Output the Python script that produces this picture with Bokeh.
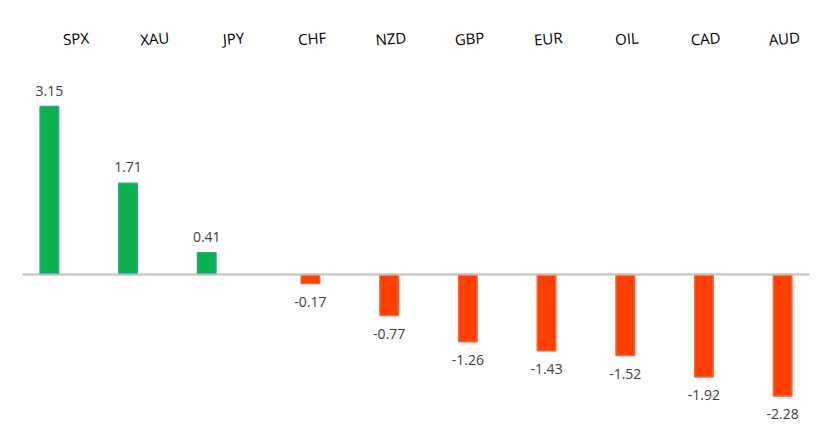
from bokeh.plotting import figure
from bokeh.models import ColumnDataSource, Range1d
from bokeh.core.properties import value
from bokeh.embed import file_html
from bokeh.resources import INLINE

categories = ["SPX", "XAU", "JPY", "CHF", "NZD", "GBP", "EUR", "OIL", "CAD", "AUD"]
changes = [3.15, 1.71, 0.41, -0.17, -0.77, -1.26, -1.43, -1.52, -1.92, -2.28]

n = len(categories)
idx = list(range(n))
bar_off = 0.159
xs = [i - bar_off if v >= 0 else i + bar_off for i, v in zip(idx, changes)]
fills = ["#0BB04F" if v >= 0 else "#FF4000" for v in changes]
edges = ["#2AA98C" if v >= 0 else "#F86434" for v in changes]
labels = ["%.2f" % v for v in changes]
yoffs = [-16 if v >= 0 else 18 for v in changes]

src = ColumnDataSource(dict(x=xs, top=changes, fill=fills, edge=edges,
                            label=labels, yoff=yoffs))

W, H = 821, 431
p = figure(width=W, height=H, output_backend="svg", toolbar_location=None,
           x_range=Range1d(-0.7795, 9.653), y_range=Range1d(-2.944, 5.138),
           x_axis_location=None, y_axis_location=None, min_border=0,
           outline_line_color=None, background_fill_color="white",
           border_fill_color="white")
p.grid.visible = False

p.vbar(x="x", top="top", bottom=0, width=0.235, source=src,
       fill_color="fill", line_color="edge", line_width=1.5)

# zero baseline
p.segment(x0=[-0.5], y0=[0], x1=[n - 0.5], y1=[0], line_color="#BFBFBF", line_width=2)

# value labels
p.text(x="x", y="top", text="label", y_offset="yoff", source=src,
       text_align="center", text_baseline="middle",
       text_font=value("Open Sans"), text_font_size="14px", text_color="#404040")

# category labels at the top
cat_src = ColumnDataSource(dict(x=[i + 0.18 for i in idx], y=[4.43] * n, t=categories))
p.text(x="x", y="y", text="t", source=cat_src, angle=0.08,
       text_align="center", text_baseline="middle",
       text_font=value("Open Sans"), text_font_size="15px", text_color="#000000")

open("out.html", "w").write(file_html(p, INLINE))
